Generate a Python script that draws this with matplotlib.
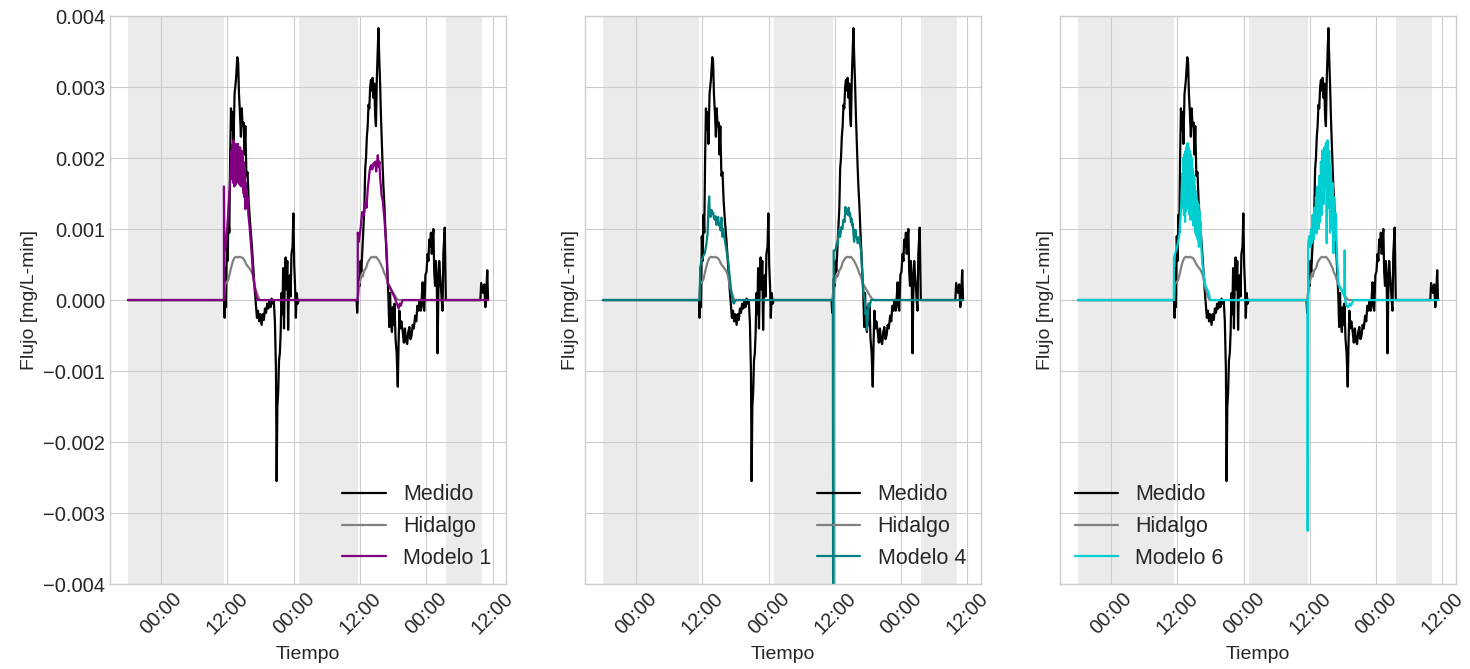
import numpy as np
import pandas as pd
import matplotlib
matplotlib.use("Agg")
import matplotlib.pyplot as plt
import matplotlib.dates as mdates
from matplotlib.ticker import FuncFormatter

# --------------------------------------------------
# Data (hours from day-1 00:00, flux in 1e-3 mg/L-min)
# --------------------------------------------------
t0 = pd.Timestamp("2019-08-06 00:00")

medido_h = [-6.0, 11.40, 11.50, 11.65, 11.75, 11.90, 12.05, 12.20, 12.35, 12.50,
            12.65, 12.80, 12.95, 13.10, 13.30, 13.55, 13.80, 13.95, 14.10, 14.30,
            14.45, 14.60, 14.75, 14.95, 15.10, 15.25, 15.45, 15.65, 15.85, 16.10,
            16.40, 16.70, 16.95, 17.15, 17.35, 17.55, 17.75, 17.95, 18.20, 18.40,
            18.60, 18.80, 19.00, 19.20, 19.40, 19.60, 19.80, 20.00, 20.20, 20.40,
            20.60, 20.80, 20.92, 21.05, 21.20, 21.35, 21.50, 21.65, 21.80, 21.95,
            22.10, 22.25, 22.40, 22.55, 22.70, 22.85, 23.00, 23.15, 23.30, 23.45,
            23.60, 23.80, 23.95, 24.10, 24.25, 24.40, 24.55, 24.75, 24.90,
            35.40, 35.50, 35.65, 35.80, 35.95, 36.10, 36.25, 36.40, 36.60, 36.80,
            36.95, 37.10, 37.25, 37.40, 37.55, 37.70, 37.85, 38.00, 38.15, 38.30,
            38.45, 38.60, 38.75, 38.90, 39.05, 39.20, 39.35, 39.50, 39.65, 39.80,
            39.95, 40.10, 40.25, 40.45, 40.60, 40.80, 41.00, 41.15, 41.30, 41.45,
            41.60, 41.80, 41.95, 42.10, 42.25, 42.45, 42.65, 42.85, 43.00, 43.15,
            43.30, 43.50, 43.75, 43.95, 44.15, 44.35, 44.55, 44.75, 44.95, 45.15,
            45.35, 45.55, 45.75, 46.00, 46.20, 46.40, 46.60, 46.80, 47.00, 47.20,
            47.35, 47.50, 47.65, 47.85, 48.05, 48.25, 48.40, 48.55, 48.70, 48.85,
            49.00, 49.15, 49.30, 49.45, 49.60, 49.75, 49.90, 50.05, 50.20, 50.35,
            50.50, 50.65, 50.80, 50.95, 51.10, 51.35, 51.55,
            57.80, 57.95, 58.10, 58.30, 58.50, 58.70, 58.85, 59.05, 59.20]
medido_v = [0.00, 0.00, -0.25, 0.45, -0.10, 0.90, 0.55, 1.20, 0.95, 2.00,
            2.70, 2.40, 2.65, 2.20, 2.90, 3.10, 3.42, 3.35, 2.90, 2.60,
            2.30, 2.70, 2.45, 2.50, 2.05, 2.45, 1.75, 1.80, 1.40, 1.10,
            0.80, 0.45, 0.15, -0.05, -0.25, -0.15, -0.30, -0.20, -0.35, -0.20,
            -0.28, -0.12, -0.18, -0.05, -0.12, -0.02, -0.10, 0.02, -0.05, 0.00,
            -0.30, -1.00, -2.55, -1.50, -1.30, -0.85, -0.75, -0.45, 0.10, -0.20,
            0.45, -0.40, 0.30, 0.60, 0.15, 0.55, -0.42, 0.20, 0.35, 0.05,
            0.65, 0.75, 1.22, 0.50, 0.20, -0.25, 0.10, -0.05, 0.00,
            0.00, -0.18, 0.05, 0.30, 0.20, 0.55, 0.40, 0.65, 0.95, 1.30,
            1.85, 2.00, 2.30, 2.45, 2.75, 2.70, 3.00, 3.10, 2.95, 3.13,
            2.85, 3.05, 2.60, 2.45, 3.10, 3.45, 3.83, 3.40, 3.05, 2.60,
            2.25, 1.90, 1.60, 1.30, 1.00, 0.65, 0.30, 0.05, -0.38, 0.10,
            -0.30, -0.45, -0.10, -0.35, -0.05, -0.55, -0.75, -1.22, -0.60, -0.15,
            -0.40, -0.30, -0.45, -0.60, -0.40, -0.58, -0.62, -0.45, -0.38, -0.55,
            -0.50, -0.35, -0.40, -0.22, -0.30, -0.08, -0.15, 0.00, -0.15, 0.05,
            0.25, -0.10, -0.15, 0.35, 0.40, 0.65, 0.55, 0.85, 0.75, 0.95,
            0.65, 0.85, 1.00, 0.40, 0.20, 0.55, 0.35, -0.75, 0.10, 0.55,
            0.35, 0.20, 0.00, -0.15, 0.65, 1.02, 0.00,
            0.00, 0.24, 0.18, 0.10, 0.22, -0.10, 0.05, 0.42, 0.00]

hidalgo_h = [-6.0, 11.40, 11.55, 11.85, 12.15, 12.45, 12.75, 13.05, 13.35, 13.65,
             13.95, 14.25, 14.55, 14.85, 15.15, 15.45, 15.75, 16.05, 16.35, 16.65,
             16.95, 17.25, 17.55, 17.85,
             35.60, 35.75, 36.00, 36.30, 36.50, 36.80, 37.10, 37.40, 37.70, 38.00,
             38.30, 38.60, 38.90, 39.20, 39.50, 39.80, 40.10, 40.40, 40.70, 41.00,
             41.30, 41.60, 41.90, 42.20, 42.50, 42.80, 43.10, 59.20]
hidalgo_v = [0.00, 0.00, 0.22, 0.25, 0.28, 0.38, 0.48, 0.56, 0.60, 0.61,
             0.60, 0.61, 0.60, 0.59, 0.55, 0.50, 0.47, 0.44, 0.40, 0.34,
             0.20, 0.12, 0.05, 0.00,
             0.00, 0.20, 0.25, 0.36, 0.33, 0.42, 0.45, 0.53, 0.57, 0.60,
             0.61, 0.60, 0.61, 0.58, 0.55, 0.50, 0.45, 0.38, 0.33, 0.25,
             0.20, 0.16, 0.12, 0.08, 0.04, 0.01, 0.00, 0.00]

modelo1_h = [-6.0, 11.37, 11.38, 11.45, 11.60, 11.80, 12.00, 12.20, 12.40, 12.60,
             12.75, 12.85, 12.90, 12.95, 13.00, 13.05, 13.10, 13.15, 13.20, 13.25,
             13.30, 13.35, 13.40, 13.45, 13.50, 13.55, 13.60, 13.65, 13.70, 13.75,
             13.80, 13.85, 13.90, 13.95, 14.00, 14.05, 14.10, 14.15, 14.20, 14.25,
             14.30, 14.35, 14.40, 14.45, 14.50, 14.55, 14.60, 14.65, 14.70, 14.75,
             14.80, 14.85, 14.90, 14.95, 15.00, 15.05, 15.10, 15.15, 15.20, 15.25,
             15.30, 15.35, 15.45, 15.55, 15.65, 15.80, 16.00, 16.20, 16.40, 16.60,
             16.80, 17.00, 17.25, 17.45,
             35.60, 35.61, 35.80, 36.10, 36.40, 36.64, 37.00, 37.20, 37.42, 37.60,
             37.73, 37.90, 38.03, 38.20, 38.32, 38.50, 38.63, 38.80, 38.93, 39.10,
             39.23, 39.40, 39.52, 39.65, 39.80, 39.90, 40.13, 40.30, 40.43, 40.60,
             40.74, 40.90, 41.03, 41.30, 41.60, 42.20, 42.70, 43.00, 43.20, 43.40,
             43.70, 59.20]
modelo1_v = [0.00, 0.00, 1.60, 0.75, 0.70, 0.85, 1.05, 1.30, 1.55, 1.85,
             2.10, 1.70, 2.20, 1.75, 2.15, 1.65, 2.25, 1.70, 2.10, 1.60,
             2.20, 1.70, 2.15, 1.62, 2.20, 1.70, 2.05, 1.65, 2.18, 1.75,
             2.10, 1.68, 2.20, 1.72, 2.10, 1.65, 2.15, 1.70, 2.05, 1.62,
             2.15, 1.68, 2.00, 1.65, 2.10, 1.60, 2.05, 1.70, 2.10, 1.62,
             2.00, 1.55, 1.95, 1.50, 1.90, 1.45, 1.85, 1.55, 1.80, 1.28,
             1.65, 1.35, 1.55, 1.30, 1.45, 1.20, 1.05, 0.85, 0.65, 0.40,
             0.25, 0.15, 0.05, 0.00,
             0.00, 0.95, 0.82, 1.00, 1.24, 1.18, 1.38, 1.30, 1.58, 1.70,
             1.81, 1.88, 1.90, 1.84, 1.86, 1.93, 1.90, 1.95, 1.81, 1.92,
             2.04, 1.88, 1.95, 1.72, 1.60, 1.48, 1.40, 1.25, 1.15, 0.95,
             0.82, 0.60, 0.24, 0.20, 0.15, 0.05, -0.05, -0.12, -0.05, -0.08,
             0.00, 0.00]

modelo4_h = [-6.0, 11.55, 11.60, 11.85, 12.15, 12.45, 12.75, 12.95, 13.10, 13.23,
             13.35, 13.48, 13.66, 13.80, 13.96, 14.10, 14.26, 14.40, 14.56, 14.70,
             14.86, 15.00, 15.16, 15.30, 15.46, 15.64, 15.76, 15.88, 16.06, 16.20,
             16.37, 16.50, 16.66, 16.85, 16.97, 17.15, 17.27, 17.45, 17.70, 17.87,
             18.17,
             35.62, 35.70, 35.78, 36.10, 36.34, 36.50, 36.70, 36.95, 37.18, 37.35,
             37.55, 37.75, 37.90, 38.05, 38.15, 38.35, 38.50, 38.65, 38.75, 38.90,
             38.99, 39.10, 39.23, 39.35, 39.47, 39.60, 39.70, 39.85, 39.95, 40.13,
             40.30, 40.43, 40.60, 40.74, 40.92, 41.16, 41.40, 41.55, 41.64, 41.80,
             41.94, 42.10, 42.24, 42.54, 59.20]
modelo4_v = [0.00, 0.00, 0.45, 0.56, 0.62, 0.66, 0.80, 0.95, 1.30, 1.46,
             1.20, 1.17, 1.27, 1.22, 1.23, 1.15, 1.13, 1.18, 1.06, 1.12,
             1.17, 1.05, 1.08, 0.98, 1.16, 0.89, 1.00, 0.95, 0.85, 0.78,
             0.70, 0.62, 0.56, 0.40, 0.33, 0.18, 0.10, 0.00, -0.05, -0.02,
             0.00,
             0.00, -6.00, 0.70, 0.70, 0.80, 0.78, 0.99, 0.89, 1.03, 1.00,
             1.13, 1.10, 1.31, 1.22, 1.27, 1.20, 1.30, 1.18, 1.22, 1.10,
             1.15, 1.05, 1.08, 0.95, 0.82, 0.92, 0.99, 0.90, 0.89, 0.80,
             0.85, 0.89, 0.75, 0.70, 0.42, 0.10, 0.00, -0.20, -0.14, -0.42,
             -0.28, -0.05, -0.10, 0.00, 0.00]

modelo6_h = [-6.0, 11.37, 11.40, 11.70, 11.97, 12.20, 12.40, 12.60, 12.76, 12.90,
             13.00, 13.05, 13.10, 13.15, 13.20, 13.25, 13.30, 13.35, 13.40, 13.45,
             13.50, 13.55, 13.60, 13.65, 13.70, 13.75, 13.80, 13.85, 13.90, 13.95,
             14.00, 14.05, 14.10, 14.15, 14.20, 14.25, 14.30, 14.35, 14.40, 14.45,
             14.50, 14.55, 14.60, 14.65, 14.70, 14.75, 14.80, 14.85, 14.90, 14.95,
             15.00, 15.05, 15.10, 15.15, 15.20, 15.25, 15.30, 15.40, 15.50, 15.60,
             15.70, 15.80, 15.90, 16.00, 16.10, 16.20, 16.35, 16.50, 16.70, 16.90,
             17.10, 17.40, 17.70, 17.95,
             35.55, 35.60, 35.70, 35.90, 36.04, 36.20, 36.34, 36.50, 36.65, 36.80,
             36.94, 37.10, 37.24, 37.40, 37.55, 37.70, 37.85, 38.00, 38.14, 38.30,
             38.45, 38.60, 38.75, 38.90, 39.05, 39.20, 39.35, 39.50, 39.65, 39.80,
             39.95, 40.10, 40.25, 40.40, 40.55, 40.70, 40.85, 41.00, 41.16, 41.40,
             41.76, 42.00, 42.24, 42.30, 42.38, 42.60, 42.96, 43.20, 43.45, 43.86,
             59.20]
modelo6_v = [0.00, 0.00, 0.60, 0.68, 0.75, 0.85, 0.94, 1.20, 1.40, 1.78,
             1.40, 2.00, 1.30, 1.95, 1.20, 2.05, 1.35, 1.90, 1.10, 2.10,
             1.40, 2.00, 1.25, 2.15, 1.45, 2.05, 1.35, 2.21, 1.30, 2.10,
             1.45, 2.15, 1.31, 2.05, 1.20, 2.10, 1.35, 1.95, 1.13, 2.05,
             1.25, 1.90, 1.40, 2.00, 1.30, 1.85, 1.20, 1.80, 1.05, 1.70,
             1.25, 1.75, 1.10, 1.60, 0.95, 1.55, 1.05, 1.45, 0.90, 1.40,
             0.85, 1.35, 0.75, 1.25, 0.80, 1.10, 0.75, 0.55, 0.40, 0.30,
             0.20, 0.15, 0.10, 0.00,
             0.00, -3.25, 0.80, 0.90, 0.75, 1.00, 0.80, 1.20, 0.85, 1.30,
             0.95, 1.45, 0.94, 1.60, 1.00, 1.75, 1.10, 1.95, 1.20, 2.11,
             1.35, 2.15, 1.60, 2.21, 0.80, 2.25, 1.30, 2.10, 0.95, 1.90,
             1.00, 1.65, 0.66, 1.45, 0.85, 1.22, 0.75, 0.45, 0.24, 0.18,
             0.15, 0.10, 0.05, 0.70, 0.00, -0.08, -0.10, -0.05, -0.08, 0.00,
             0.00]

# lights-off periods (hours)
noche = [(-6.0, 11.45), (24.9, 35.6), (51.6, 58.1)]

modelos = [("Modelo 1", modelo1_h, modelo1_v, "purple"),
           ("Modelo 4", modelo4_h, modelo4_v, "teal"),
           ("Modelo 6", modelo6_h, modelo6_v, "darkturquoise")]
legend_loc = ["lower right", "lower right", "lower left"]

y_ticks = [-0.004, -0.003, -0.002, -0.001, 0.0, 0.001, 0.002, 0.003, 0.004]


def to_time(hours):
    return t0 + pd.to_timedelta(np.asarray(hours), unit="h")


def to_flux(vals):
    return np.asarray(vals) * 1e-3


# --------------------------------------------------
# Plot settings
# --------------------------------------------------
plt.style.use("seaborn-v0_8-whitegrid")
plt.rcParams.update({
    "font.family": ["Liberation Sans", "DejaVu Sans"],
    "font.size": 14,
    "axes.labelsize": 14,
    "xtick.labelsize": 14.5,
    "ytick.labelsize": 14.5,
    "legend.fontsize": 15.5,
})

fig, axes = plt.subplots(1, 3, figsize=(14.7, 6.69), dpi=100, sharey=True)
fig.subplots_adjust(left=0.0748, right=0.9905, bottom=0.127, top=0.976, wspace=0.199)

for ax, (nombre, mh, mv, color), loc in zip(axes, modelos, legend_loc):
    for a, b in noche:
        ax.axvspan(to_time(a), to_time(b), color="#ebebeb", lw=0, zorder=0.2)

    ax.plot(to_time(medido_h), to_flux(medido_v), color="black", lw=1.6, label="Medido")
    ax.plot(to_time(hidalgo_h), to_flux(hidalgo_v), color="grey", lw=1.6, label="Hidalgo")
    ax.plot(to_time(mh), to_flux(mv), color=color, lw=1.6, label=nombre)

    ax.set_ylim(-0.004, 0.004)
    ax.set_yticks(y_ticks)
    ax.yaxis.set_major_formatter(
        FuncFormatter(lambda v, _: f"{v:.3f}".replace("-", "\u2212")))

    ax.xaxis.set_major_locator(mdates.HourLocator(byhour=[0, 12]))
    ax.xaxis.set_major_formatter(mdates.DateFormatter("%H:%M"))
    plt.setp(ax.get_xticklabels(), rotation=45)

    ax.set_xlabel("Tiempo", labelpad=6)
    ax.set_ylabel("Flujo [mg/L-min]")
    ax.legend(loc=loc, frameon=False, borderaxespad=0.3)

plt.savefig("out.png", dpi=100)
